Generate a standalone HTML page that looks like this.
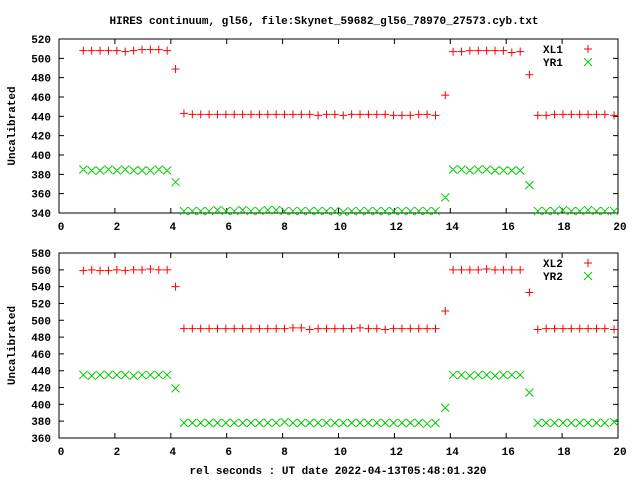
<!DOCTYPE html>
<html><head><meta charset="utf-8"><style>
body{margin:0;background:#fff}
svg{display:block}
text{font-family:"Liberation Mono",monospace;font-weight:bold;font-size:11px;fill:#000}
</style></head><body>
<svg id="chart" width="640" height="480" xmlns="http://www.w3.org/2000/svg">
<text x="324" y="24" text-anchor="middle">HIRES continuum, gl56, file:Skynet_59682_gl56_78970_27573.cyb.txt</text>
<text x="338" y="474" text-anchor="middle">rel seconds : UT date 2022-04-13T05:48:01.320</text>
</svg>
<script>
const times=[0.87,1.17,1.47,1.77,2.07,2.37,2.67,2.97,3.27,3.57,3.87,4.17,4.47,4.77,5.07,5.37,5.67,5.97,6.27,6.57,6.87,7.17,7.47,7.77,8.07,8.37,8.67,8.97,9.27,9.57,9.87,10.17,10.47,10.77,11.07,11.37,11.67,11.97,12.27,12.57,12.87,13.17,13.47,13.82,14.1,14.4,14.7,15.0,15.3,15.6,15.9,16.2,16.5,16.83,17.13,17.43,17.73,18.03,18.33,18.63,18.93,19.23,19.53,19.86];
const xl1=[508,508,508,508,508,507,508,509,509,509,508,489,443,442,442,442,442,442,442,442,442,442,442,442,442,442,442,442,441,442,442,441,442,442,442,442,442,441,441,441,442,442,441,462,507,507,508,508,508,508,508,506,507,483,441,441,442,442,442,442,442,442,442,441];
const yr1=[385,384,384,385,384,385,384,384,384,385,384,372,342,342,342,342,343,342,342,343,342,342,343,343,342,342,342,342,342,342,342,341,342,342,342,342,342,342,342,342,342,342,342,356,385,385,384,385,385,384,384,384,384,369,342,342,342,343,342,342,343,342,342,342];
const xl2=[559,560,559,559,560,559,560,560,561,560,560,540,490,490,490,490,490,490,490,490,490,490,490,490,490,491,491,489,490,490,490,490,490,491,490,490,489,490,490,490,490,490,490,511,560,560,560,560,561,560,560,560,560,533,489,490,490,490,490,490,490,490,490,489];
const yr2=[435,434,435,435,435,435,434,435,435,435,435,419,378,378,378,378,378,378,378,378,378,378,378,378,379,378,378,378,378,378,378,378,378,378,378,378,378,378,378,378,378,377,378,396,435,435,434,435,435,434,435,435,435,414,378,378,378,378,378,378,378,378,378,379];
const xTicks=[0,2,4,6,8,10,12,14,16,18,20];
const yTicks1=[340,360,380,400,420,440,460,480,500,520];
const yTicks2=[360,380,400,420,440,460,480,500,520,540,560,580];
const NS="http://www.w3.org/2000/svg";
const svg=document.getElementById('chart');
function mk(tag,attrs){const e=document.createElementNS(NS,tag);for(const k in attrs)e.setAttribute(k,attrs[k]);svg.appendChild(e);return e;}
const X0=59,X1=618;
function sx(v){return X0+(v-0)/(20-0)*(X1-X0);}
function panel(top,bot,ymin,ymax,yt,s1,s2,n1,n2,p){
  const sy=v=>bot-(v-ymin)/(ymax-ymin)*(bot-top);
  const fr=mk('rect',{x:X0,y:top,width:X1-X0,height:bot-top,fill:'none',stroke:'#000','stroke-width':1});
  
  
  yt.forEach(v=>{const y=sy(v);
    const l=mk('path',{d:`M${X0} ${y}h5M${X1} ${y}h-5`,stroke:'#000'});
    
    
    const t=mk('text',{x:51,y:y+4,'text-anchor':'end'});t.textContent=v;
    
    });
  xTicks.forEach(v=>{const x=sx(v);
    const l=mk('path',{d:`M${x} ${bot}v-5M${x} ${top}v5`,stroke:'#000'});
    
    
    const t=mk('text',{x:x+2,y:bot+17,'text-anchor':'middle'});t.textContent=v;
    
    });
  const yl=mk('text',{x:0,y:0,transform:`translate(15,${(top+bot)/2}) rotate(-90)`,'text-anchor':'middle'});
  yl.textContent='Uncalibrated';
  
  
  const plus=(x,y)=>`M${x-4} ${y}h8M${x} ${y-4}v8`;
  const cross=(x,y)=>`M${x-4} ${y-4}l8 8M${x-4} ${y+4}l8 -8`;
  let d1='',d2='';
  times.forEach((t,i)=>{d1+=plus(sx(t),sy(s1[i]));d2+=cross(sx(t),sy(s2[i]));});
  const a=mk('path',{d:d1,stroke:'#f00',fill:'none'});
  
  
  const b=mk('path',{d:d2,stroke:'#0c0',fill:'none'});
  
  
  const t1=mk('text',{x:543,y:top+14});t1.textContent=n1;
  
  
  const t2=mk('text',{x:543,y:top+27});t2.textContent=n2;
  
  
  const m1=mk('path',{d:plus(588,top+10),stroke:'#f00'});
  
  
  const m2=mk('path',{d:cross(588,top+23),stroke:'#0c0'});
  
  
}
panel(39,213,340,520,yTicks1,xl1,yr1,'XL1','YR1','top');
panel(253,438,360,580,yTicks2,xl2,yr2,'XL2','YR2','bottom');
</script>
</body></html>
